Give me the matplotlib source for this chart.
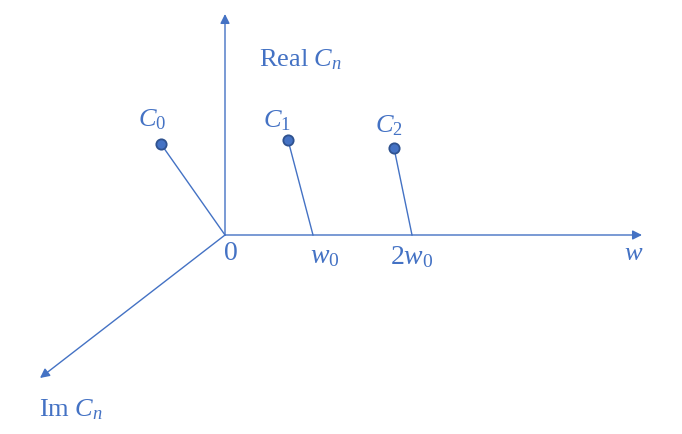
import matplotlib
matplotlib.use("Agg")
import matplotlib.pyplot as plt

plt.rcParams["font.family"] = ["Liberation Serif", "DejaVu Serif"]
plt.rcParams["mathtext.fontset"] = "custom"
plt.rcParams["mathtext.rm"] = "Liberation Serif"
plt.rcParams["mathtext.it"] = "Liberation Serif:italic"

BLUE = "#4472C4"
EDGE = "#2F528F"

# diagram in pixel space of the reference (y grows downward)
origin = (225, 235)
axis_ends = [(225, 14), (642, 235), (40, 378)]

coef_labels = ["$C_0$", "$C_1$", "$C_2$"]
stem_feet = [(225, 235), (313, 235), (412, 235)]
stem_tips = [(161, 144), (288, 140), (394, 148)]
coef_label_pos = [(152, 120), (277, 121), (389, 126)]

tick_labels = ["0", "$w_0$", "$2w_0$"]
tick_label_pos = [(231, 254), (325, 257), (412, 257)]

axis_labels = ["Real $C_n$", "$w$", "Im $C_n$"]
axis_label_pos = [(301, 60), (634, 254), (71, 410)]

fig = plt.figure(figsize=(6.82, 4.34), dpi=100)
ax = fig.add_axes([0, 0, 1, 1])
ax.set_xlim(0, 682)
ax.set_ylim(434, 0)
ax.axis("off")

for end in axis_ends:
    ax.annotate("", xy=end, xytext=origin,
                arrowprops=dict(arrowstyle="-|>", color=BLUE, lw=1.0,
                                mutation_scale=14, shrinkA=0, shrinkB=0))

for (fx, fy), (tx, ty) in zip(stem_feet, stem_tips):
    ax.plot([fx, tx], [fy, ty], color=BLUE, lw=1.0)
xs = [p[0] for p in stem_tips]
ys = [p[1] for p in stem_tips]
ax.scatter(xs, ys, s=55, color=BLUE, edgecolor=EDGE, linewidth=1.3, zorder=3)

for txt, (x, y) in zip(coef_labels, coef_label_pos):
    ax.text(x, y, txt, color=BLUE, fontsize=19, ha="center", va="center")
for txt, (x, y) in zip(tick_labels, tick_label_pos):
    ax.text(x, y, txt, color=BLUE, fontsize=20, ha="center", va="center")
for txt, (x, y) in zip(axis_labels, axis_label_pos):
    ax.text(x, y, txt, color=BLUE, fontsize=19, ha="center", va="center")

fig.savefig("out.png", dpi=100)
